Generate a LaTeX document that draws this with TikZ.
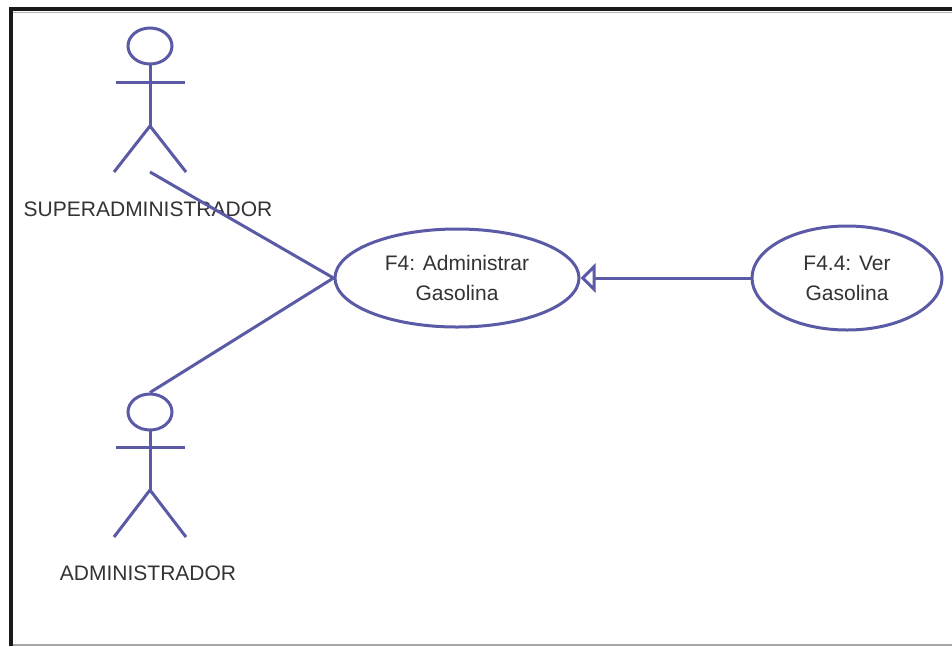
\documentclass[tikz,border=0pt]{standalone}
\usepackage{fontspec}
\setmainfont{Liberation Sans}
\usetikzlibrary{shapes.geometric,arrows.meta}
\definecolor{umlline}{RGB}{90,90,166}
\definecolor{umltext}{RGB}{51,51,51}
\begin{document}
\begin{tikzpicture}[x=1pt,y=-1pt,
  umlstroke/.style={draw=umlline,line width=3pt},
  usecase/.style={ellipse,umlstroke,fill=white,text=umltext,align=center,
    font=\fontsize{21}{30}\selectfont,inner sep=0pt},
  actorhead/.style={ellipse,umlstroke,minimum width=44pt,minimum height=36pt,inner sep=0pt},
  actorlabel/.style={text=umltext,font=\fontsize{21}{25}\selectfont,inner sep=0pt}]
\useasboundingbox (0,0) rectangle (952,646);
\fill[white] (0,0) rectangle (952,646);
% frame
\draw[line width=1.5pt,gray!70] (11,645) -- (952,645);
\draw[line width=1pt,gray!60] (13,12.5) -- (952,12.5);
\draw[line width=4pt,black!90] (11,646) -- (11,9) -- (952,9);
% actor SUPERADMINISTRADOR
\node[actorhead] (sahead) at (150,46) {};
\coordinate (saneck) at (150,64);
\coordinate (sahip) at (150,126);
\draw[umlstroke] (saneck) -- (sahip);
\draw[umlstroke] (116,82) -- (185,82);
\draw[umlstroke] (114,172) -- (sahip) -- (186,172);
\node[actorlabel] (salabel) at (148,209) {SUPERADMINISTRADOR};
\coordinate (safoot) at (150,172);
% actor ADMINISTRADOR
\node[actorhead] (adhead) at (150,412) {};
\coordinate (adneck) at (150,430);
\coordinate (adhip) at (150,490);
\draw[umlstroke] (adneck) -- (adhip);
\draw[umlstroke] (116,447) -- (185,447);
\draw[umlstroke] (114,537) -- (adhip) -- (186,537);
\node[actorlabel] (adlabel) at (148,573) {ADMINISTRADOR};
% use cases
\node[usecase,minimum width=244pt,minimum height=98pt] (uc1) at (457,278) {F4: Administrar\\Gasolina};
\node[usecase,minimum width=190pt,minimum height=104pt] (uc2) at (847,278) {F4.4: Ver\\Gasolina};
% associations
\draw[umlstroke] (safoot) -- (uc1.west);
\draw[umlstroke] (adhead.north) -- (uc1.west);
\draw[umlstroke,-{Triangle[open,length=15pt,width=29pt]}] (uc2.west) -- (uc1.east);
\end{tikzpicture}
\end{document}
